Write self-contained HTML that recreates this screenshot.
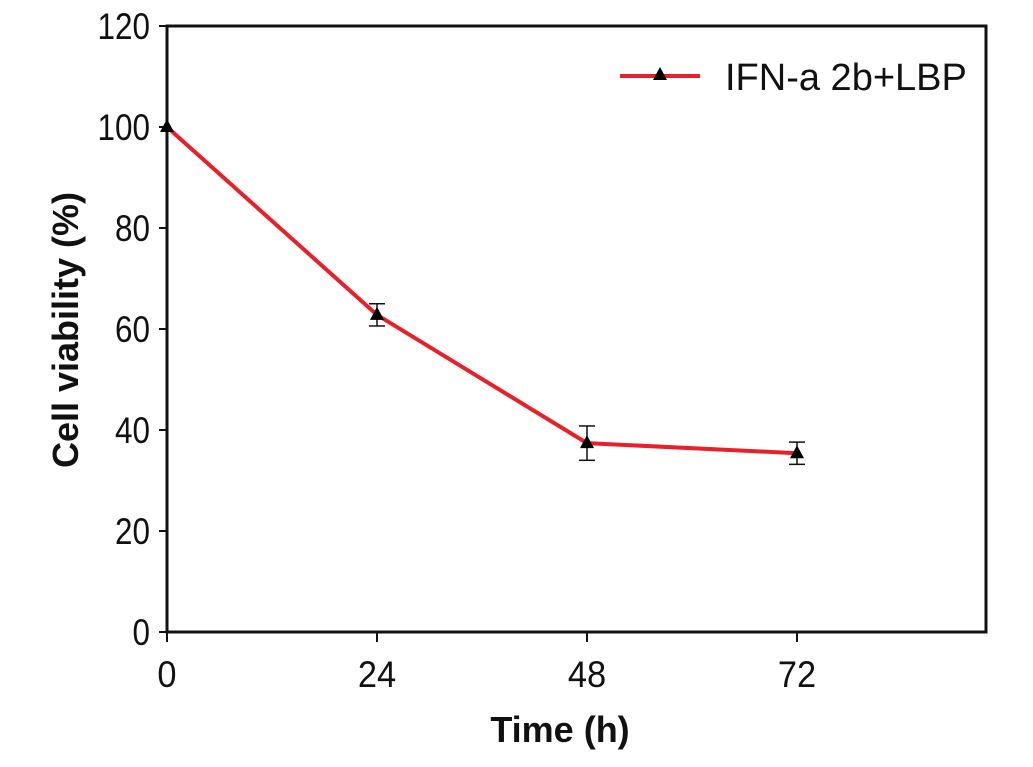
<!DOCTYPE html>
<html><head><meta charset="utf-8"><style>
html,body{margin:0;padding:0;background:#fff;}
svg text{font-family:"Liberation Sans",Arial,sans-serif;fill:#111;}
</style></head><body>
<svg id="chart" width="1033" height="762" viewBox="0 0 1033 762" xmlns="http://www.w3.org/2000/svg">
<rect x="167" y="26" width="819" height="606" fill="none" stroke="#111" stroke-width="3"/>
<g id="yticks"></g><g id="xticks"></g><g id="series"></g>
<text x="560" y="742" font-size="36" font-weight="bold" text-anchor="middle">Time (h)</text>
<text transform="translate(78,330) rotate(-90)" font-size="36" font-weight="bold" text-anchor="middle">Cell viability (%)</text>
<g>
<line x1="620" y1="76" x2="700" y2="76" stroke="#e8202a" stroke-width="4"/>
<polygon points="660,67 667,80 653,80" fill="#000"/>
<text x="725" y="90" font-size="38">IFN-a 2b+LBP</text>
</g>
</svg>
<script>
const times=[0,24,48,72];
const viability=[100,62.8,37.4,35.4];
const errors=[0,2.2,3.4,2.2];
const yTicks=[0,20,40,60,80,100,120];
const xTicks=[0,24,48,72];
const NS="http://www.w3.org/2000/svg";
const X0=167,X1=986,Y0=632,Y1=26,XMAX=93.6,YMAX=120;
const sx=v=>X0+v/XMAX*(X1-X0);
const sy=v=>Y0-v/YMAX*(Y0-Y1);
function mk(tag,attrs,parent){const e=document.createElementNS(NS,tag);for(const k in attrs)e.setAttribute(k,attrs[k]);parent.appendChild(e);return e;}
const yg=document.getElementById('yticks'),xg=document.getElementById('xticks'),sg=document.getElementById('series');
yTicks.forEach(t=>{
 const l=mk('line',{x1:X0-8,x2:X0,y1:sy(t),y2:sy(t),stroke:'#111','stroke-width':2},yg);
 
 
 const tx=mk('text',{transform:`translate(150,${sy(t)+13}) scale(0.85,1)`,'font-size':37,'text-anchor':'end'},yg);
 tx.textContent=t;
 
 
});
xTicks.forEach(t=>{
 const l=mk('line',{x1:sx(t),x2:sx(t),y1:Y0,y2:Y0+10,stroke:'#111','stroke-width':2},xg);
 
 
 const tx=mk('text',{transform:`translate(${sx(t)},687) scale(0.93,1)`,'font-size':37,'text-anchor':'middle'},xg);
 tx.textContent=t;
 
 
});
const pl=mk('polyline',{points:times.map((t,i)=>sx(t)+','+sy(viability[i])).join(' '),fill:'none',stroke:'#e8202a','stroke-width':4},sg);


times.forEach((t,i)=>{
 const x=sx(t),y=sy(viability[i]);
 if(errors[i]>0){
  const g=mk('g',{stroke:'#111','stroke-width':1.5},sg);
  
  
  const yt=sy(viability[i]+errors[i]),yb=sy(viability[i]-errors[i]);
  mk('line',{x1:x,x2:x,y1:yt,y2:yb},g);
  mk('line',{x1:x-8,x2:x+8,y1:yt,y2:yt},g);
  mk('line',{x1:x-8,x2:x+8,y1:yb,y2:yb},g);
 }
 const p=mk('polygon',{points:`${x},${y-8} ${x+7},${y+5} ${x-7},${y+5}`,fill:'#000'},sg);
 
 
});
</script>
</body></html>
